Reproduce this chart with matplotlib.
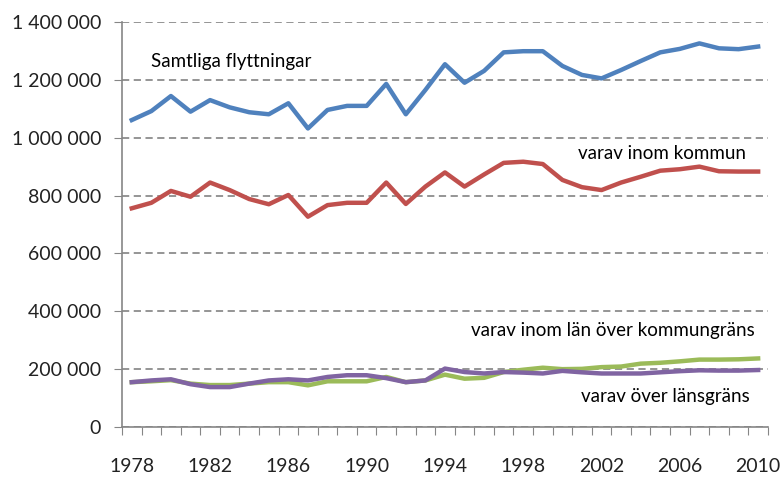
import matplotlib
matplotlib.use("Agg")
import matplotlib.pyplot as plt
from matplotlib.ticker import FuncFormatter, FixedLocator

plt.rcParams["font.family"] = ["Lato", "DejaVu Sans"]

years = list(range(1978, 2011))
year_labels = [str(y) for y in years[::4]]

samtliga = [1061000, 1092000, 1144000, 1090000, 1130000, 1105000, 1088000, 1081000,
            1119000, 1032000, 1096000, 1110000, 1110000, 1186000, 1081000, 1165000,
            1254000, 1190000, 1231000, 1295000, 1299000, 1299000, 1248000, 1217000,
            1205000, 1234000, 1265000, 1295000, 1307000, 1326000, 1309000, 1306000,
            1315000]
inom_kommun = [756000, 775000, 816000, 796000, 845000, 819000, 788000, 770000,
               802000, 727000, 767000, 775000, 775000, 845000, 771000, 831000,
               880000, 831000, 873000, 913000, 917000, 909000, 854000, 829000,
               819000, 845000, 865000, 886000, 891000, 900000, 884000, 883000,
               883000]
inom_lan = [155000, 158000, 162000, 150000, 145000, 145000, 150000, 155000,
            155000, 144000, 158000, 158000, 158000, 173000, 155000, 161000,
            181000, 167000, 170000, 190000, 198000, 205000, 200000, 201000,
            207000, 209000, 219000, 222000, 227000, 233000, 233000, 234000,
            237000]
over_lansgrans = [155000, 161000, 165000, 148000, 138000, 138000, 150000, 161000,
                  165000, 161000, 173000, 179000, 179000, 169000, 155000, 161000,
                  202000, 190000, 185000, 190000, 188000, 185000, 194000, 189000,
                  185000, 185000, 185000, 189000, 193000, 196000, 195000, 195000,
                  197000]

series = [
    (samtliga, "#4F81BD"),
    (inom_kommun, "#C0504D"),
    (inom_lan, "#9BBB59"),
    (over_lansgrans, "#8064A2"),
]

fig = plt.figure(figsize=(7.82, 4.8), dpi=100)
ax = fig.add_axes([0.156, 0.1104, 0.826, 0.8438])

x = list(range(len(years)))
for values, color in series:
    ax.plot(x, values, color=color, linewidth=3.2, solid_joinstyle="round")

ax.set_xlim(-0.5, len(years) - 0.5)
ax.set_ylim(0, 1400000)
ax.set_yticks(range(0, 1400001, 200000))
ax.yaxis.set_major_formatter(FuncFormatter(lambda v, p: f"{int(v):,}".replace(",", " ")))
ax.yaxis.grid(True, linestyle=(0, (4, 2.5)), color="#8C8C8C", linewidth=1.3)
ax.set_axisbelow(True)

ax.xaxis.set_major_locator(FixedLocator([i - 0.5 for i in range(len(years) + 1)]))
ax.xaxis.set_major_formatter(FuncFormatter(lambda v, p: ""))
ax.xaxis.set_minor_locator(FixedLocator(x[::4]))
ax.set_xticklabels(year_labels, minor=True)
ax.tick_params(axis="x", which="major", direction="out", length=6, color="#868686")
ax.tick_params(axis="x", which="minor", length=0, pad=22, labelsize=14, labelcolor="#222222")
ax.tick_params(axis="y", direction="out", length=6, color="#868686", labelsize=14,
               labelcolor="#222222", pad=9)

for side in ("top", "right"):
    ax.spines[side].set_visible(False)
for side in ("left", "bottom"):
    ax.spines[side].set_color("#868686")
    ax.spines[side].set_linewidth(1.2)

ax.text(1.0, 1262000, "Samtliga flyttningar", fontsize=13.5, va="center", ha="left")
ax.text(31.4, 946000, "varav inom kommun", fontsize=13.5, va="center", ha="right")
ax.text(31.83, 332000, "varav inom län över kommungräns", fontsize=13.5, va="center", ha="right")
ax.text(31.57, 105000, "varav över länsgräns", fontsize=13.5, va="center", ha="right")

fig.savefig("out.png", dpi=100)
